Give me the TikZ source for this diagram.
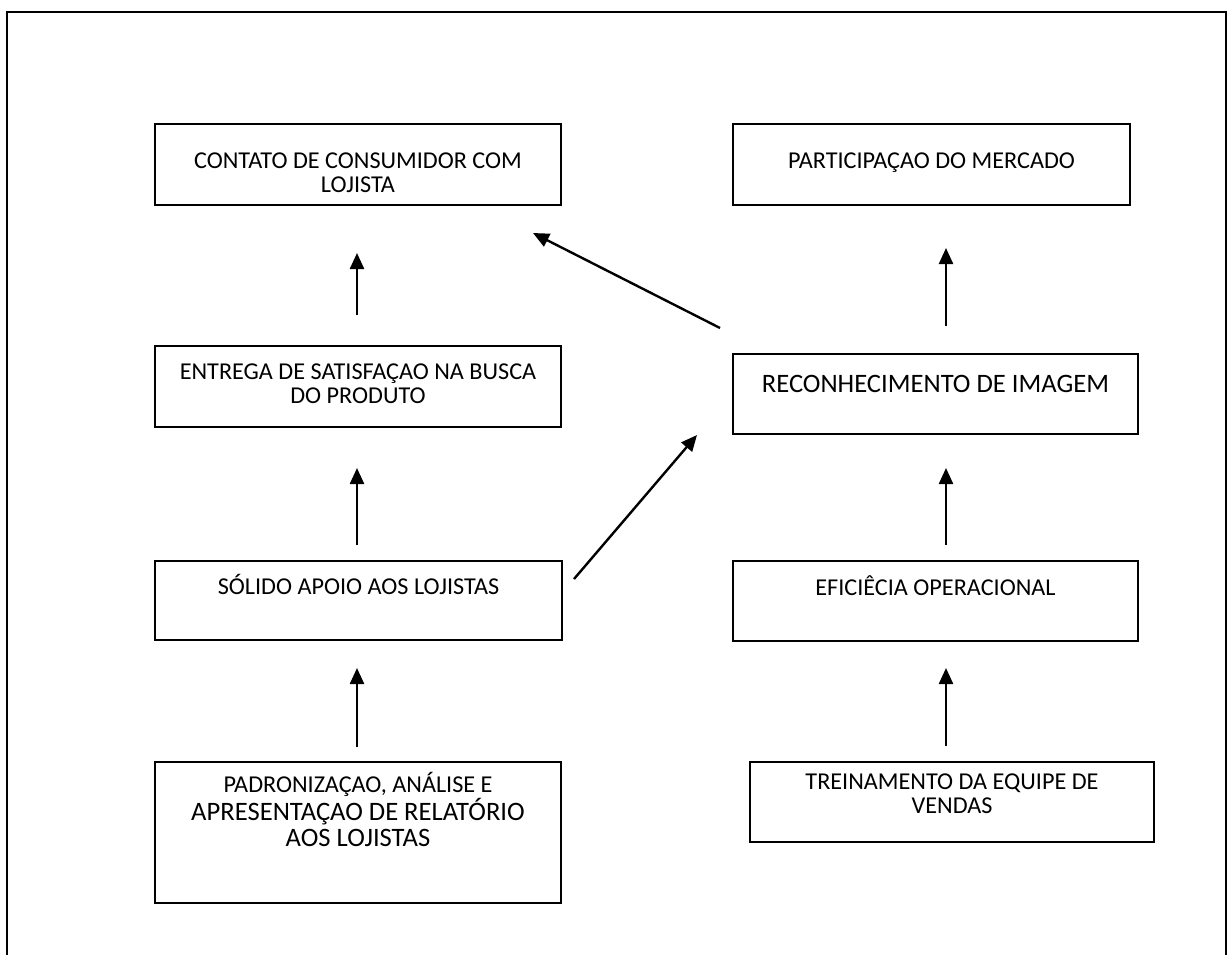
\documentclass[tikz,border=0pt]{standalone}
\usepackage{fontspec}
\setmainfont{Carlito}
\usetikzlibrary{arrows.meta,fit}
\begin{document}
\begin{tikzpicture}[x=0.5pt,y=-0.5pt,
  box/.style={draw, line width=0.75pt, inner sep=0pt},
  txt/.style={anchor=base, align=center, inner sep=0pt, font=\fontsize{12.1}{12}\selectfont},
  bigtxt/.style={txt, font=\fontsize{13.3}{12.75}\selectfont},
  arr/.style={line width=1.2pt, -{Triangle[length=8pt,width=7pt]}}]
\useasboundingbox (0,0) rectangle (1227,955);
% outer frame (bottom edge outside the page)
\draw[line width=1pt] (7,955) -- (7,12) -- (1226,12) -- (1226,955);

% boxes
\node[box, fit={(155,124) (561,205)}] (c1) {};
\node[box, fit={(733,124) (1130,205)}] (c2) {};
\node[box, fit={(155,346) (561,427)}] (c3) {};
\node[box, fit={(733,354) (1138,434)}] (c4) {};
\node[box, fit={(155,561) (562,640)}] (c5) {};
\node[box, fit={(733,561) (1138,641)}] (c6) {};
\node[box, fit={(155,762) (561,903)}] (c7) {};
\node[box, fit={(750,762) (1154,842)}] (c8) {};

% texts (base anchor = baseline of the last line)
\node[txt] (t1) at (358,192) {CONTATO DE CONSUMIDOR COM\\LOJISTA};
\node[txt] (t2) at (931.5,168) {PARTICIPAÇAO DO MERCADO};
\node[txt] (t3) at (358,403) {ENTREGA DE SATISFAÇAO NA BUSCA\\DO PRODUTO};
\node[bigtxt] (t4) at (935.5,392) {RECONHECIMENTO DE IMAGEM};
\node[txt] (t5) at (358.5,594) {SÓLIDO APOIO AOS LOJISTAS};
\node[txt] (t6) at (935.5,595) {EFICIÊCIA OPERACIONAL};
\node[bigtxt] (t7) at (358,846) {{\fontsize{12.1}{12}\selectfont PADRONIZAÇAO, ANÁLISE E}\\APRESENTAÇAO DE RELATÓRIO\\AOS LOJISTAS};
\node[txt] (t8) at (952,813) {TREINAMENTO DA EQUIPE DE\\VENDAS};

% arrow end points
\coordinate (a1s) at (357,315); \coordinate (a1e) at (357,253);
\coordinate (a2s) at (357,545); \coordinate (a2e) at (357,468);
\coordinate (a3s) at (357,747); \coordinate (a3e) at (357,668);
\coordinate (b1s) at (946,326); \coordinate (b1e) at (946,248);
\coordinate (b2s) at (946,545); \coordinate (b2e) at (946,468);
\coordinate (b3s) at (946,746); \coordinate (b3e) at (946,668);
\coordinate (d1s) at (720,328); \coordinate (d1e) at (533,233);
\coordinate (d2s) at (574,579); \coordinate (d2e) at (697,435);

\draw[arr] (a1s) -- (a1e);
\draw[arr] (a2s) -- (a2e);
\draw[arr] (a3s) -- (a3e);
\draw[arr] (b1s) -- (b1e);
\draw[arr] (b2s) -- (b2e);
\draw[arr] (b3s) -- (b3e);
\draw[arr] (d1s) -- (d1e);
\draw[arr] (d2s) -- (d2e);
\end{tikzpicture}
\end{document}
